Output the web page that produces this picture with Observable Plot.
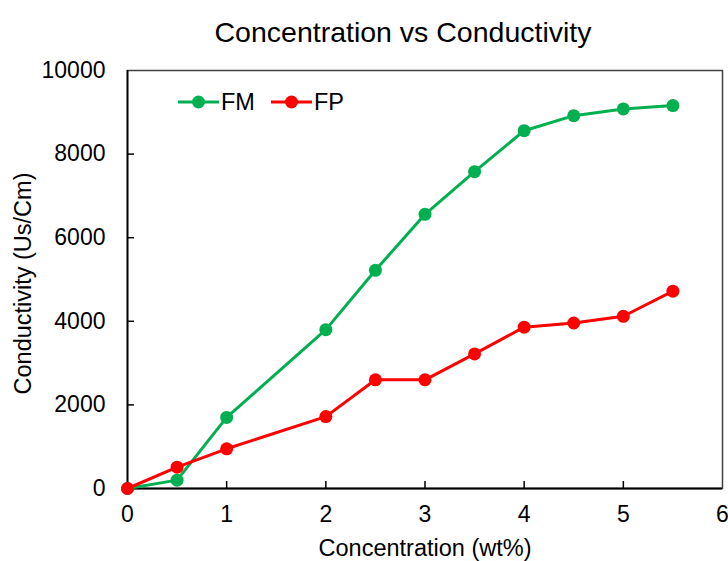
<!DOCTYPE html>
<html>
<head>
<meta charset="utf-8">
<script src="https://cdn.jsdelivr.net/npm/d3@7"></script>
<script src="https://cdn.jsdelivr.net/npm/@observablehq/plot@0.6"></script>
<style>
  html, body { margin: 0; padding: 0; background: #fff; }
  #chart svg { display: block; }
</style>
</head>
<body>
<div id="chart"></div>
<script>
// Concentration (wt%) at which conductivity was measured
const concentration = [0, 0.5, 1, 2, 2.5, 3, 3.5, 4, 4.5, 5, 5.5];
// Conductivity (Us/Cm) for each series
const fmValues = [0, 200, 1700, 3800, 5220, 6560, 7580, 8560, 8920, 9080, 9160];
const fpValues = [0, 510, 950, 1720, 2600, 2600, 3220, 3860, 3960, 4120, 4720];

const seriesNames = ["FM", "FP"];
const seriesColors = ["#00B050", "#FF0000"];
const xTicks = [0, 1, 2, 3, 4, 5, 6];
const yTicks = [0, 2000, 4000, 6000, 8000, 10000];

const titleText = "Concentration vs Conductivity";
const xLabel = "Concentration (wt%)";
const yLabel = "Conductivity (Us/Cm)";

const rows = [
  ...concentration.map((c, i) => ({series: "FM", c, v: fmValues[i]})),
  ...concentration.map((c, i) => ({series: "FP", c, v: fpValues[i]}))
];

const W = 728, H = 561;
const M = {top: 70, right: 6, bottom: 73, left: 127};
const frameW = W - M.left - M.right;
const frameH = H - M.top - M.bottom;
const font = "'Liberation Sans', Arial, sans-serif";

const chart = Plot.plot({
  width: W,
  height: H,
  marginTop: M.top,
  marginRight: M.right,
  marginBottom: M.bottom,
  marginLeft: M.left,
  style: {fontFamily: font, background: "#fff", color: "#000"},
  x: {domain: [0, 6]},
  y: {domain: [0, 10000]},
  color: {domain: seriesNames, range: seriesColors},
  marks: [
    // plot-area border (top and right)
    Plot.frame({stroke: "#404040", strokeWidth: 1.5}),
    // tick labels
    Plot.axisX({ticks: xTicks, tickSize: 0, tickPadding: 17, fontSize: 23, label: null, tickFormat: d3.format("d")}),
    Plot.axisY({ticks: yTicks, tickSize: 0, tickPadding: 22, fontSize: 23, label: null, tickFormat: d3.format("d")}),
    // inward tick marks
    Plot.tickX(xTicks.slice(1, -1), {x: d => d, insetTop: frameH - 7, stroke: "#000", strokeWidth: 1.5}),
    Plot.tickY(yTicks.slice(1, -1), {y: d => d, insetRight: frameW - 7, stroke: "#000", strokeWidth: 1.5}),
    // axis lines
    Plot.ruleX([0], {stroke: "#000", strokeWidth: 1.8}),
    Plot.ruleY([0], {stroke: "#000", strokeWidth: 1.8}),
    // series
    Plot.line(rows, {x: "c", y: "v", z: "series", stroke: "series", strokeWidth: 3}),
    Plot.dot(rows, {x: "c", y: "v", fill: "series", r: 6.5}),
    // titles
    Plot.text([titleText], {text: d => d, frameAnchor: "top", dx: -22, dy: -38, fontSize: 28.5, lineAnchor: "middle", fill: "#000"}),
    Plot.text([xLabel], {text: d => d, frameAnchor: "bottom", dy: 60, fontSize: 23.5, lineAnchor: "middle", fill: "#000"}),
    Plot.text([yLabel], {text: d => d, frameAnchor: "left", textAnchor: "middle", dx: -104, dy: 4, rotate: -90, fontSize: 23.5, lineAnchor: "middle", fill: "#000"})
  ]
});

// legend inside the plot area, top-left
const svg = d3.select(chart);
const legend = svg.append("g")
  .attr("font-family", font)
  .attr("font-size", 23.5)
  .attr("text-anchor", "start");
const entries = [{x: 178, y: 102}, {x: 271, y: 102}];
seriesNames.forEach((name, i) => {
  const g = legend.append("g").attr("transform", `translate(${entries[i].x},${entries[i].y})`);
  g.append("line").attr("x1", 0).attr("x2", 41).attr("y1", 0).attr("y2", 0)
    .attr("stroke", seriesColors[i]).attr("stroke-width", 3);
  g.append("circle").attr("cx", 20.5).attr("cy", 0).attr("r", 6.5).attr("fill", seriesColors[i]);
  g.append("text").attr("x", 43).attr("y", 0).attr("dy", "0.35em").attr("fill", "#000").text(name);
});

document.getElementById("chart").appendChild(chart);
</script>
</body>
</html>
